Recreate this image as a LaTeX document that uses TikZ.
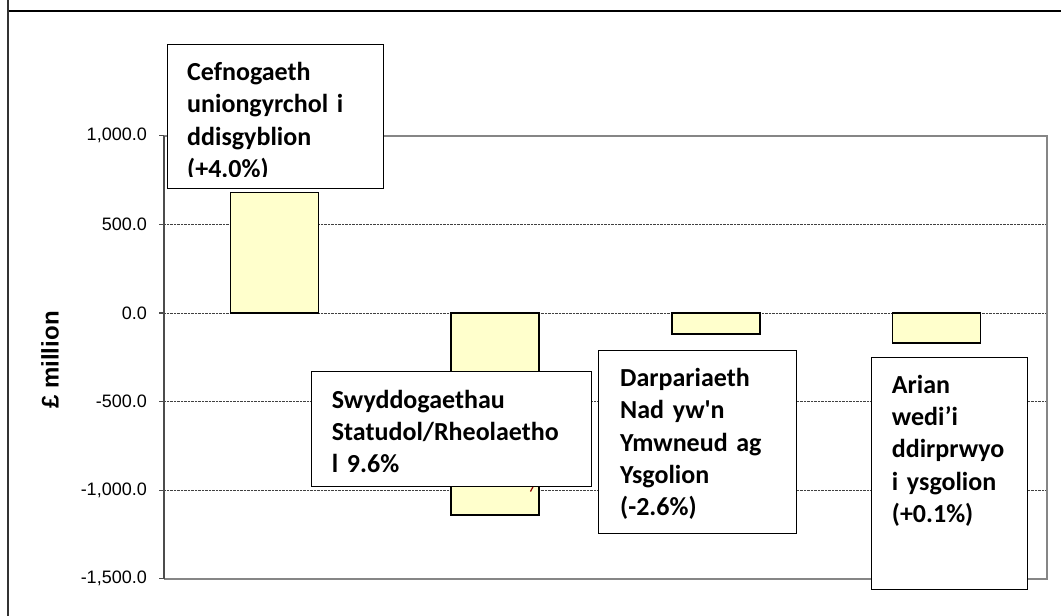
\documentclass[tikz,border=0pt]{standalone}
\usepackage{fontspec}
\setmainfont{Liberation Sans}
\newfontfamily\calloutfont{Carlito}
\usetikzlibrary{positioning}

\definecolor{barfill}{HTML}{FFFFCC}
\definecolor{framegray}{HTML}{868686}
\definecolor{leadred}{HTML}{8B0000}

\tikzset{
  barbox/.style={draw=black, line width=1.3pt, fill=barfill},
  gridline/.style={draw=black!75, line width=0.8pt, dash pattern=on 0.7pt off 0.7pt},
  callout/.style={draw=black, line width=1.3pt, fill=white, inner sep=0pt, anchor=north west},
  callouttext/.style={font=\calloutfont\bfseries\fontsize{26}{32.3}\selectfont,
    text width=260pt, align=left, inner sep=0pt, anchor=base west},
  ticklabel/.style={font=\fontsize{18}{20}\selectfont, anchor=east, inner sep=0pt},
  leader/.style={draw=leadred, line width=1.2pt},
}

\begin{document}
\begin{tikzpicture}[x=1pt,y=1pt]
\useasboundingbox (0,0) rectangle (1061,-616);
% outer chart frame
\draw [line width=2.5pt] (8,-11) -- (1061,-11);
\draw [black!80, line width=1.2pt] (8,0) -- (8,-616);
% axis title
\node [rotate=90, font=\bfseries\fontsize{24}{26}\selectfont] (ytitle) at (50,-360) {£ million};
% value axis, data units from here on
\begin{scope}[yshift=-313pt, y=0.1772pt]
\foreach \v in {500, 0, -500, -1000}
  \draw [gridline] (164,\v) -- (1047,\v);
\draw [framegray, line width=1.6pt] (164,1000) -- (1047,1000) -- (1047,-1500) -- (164,-1500);
\draw [black!70, line width=1.6pt] (164,1000) -- (164,-1500);
\foreach \v/\t in {1000/{1,000.0}, 500/500.0, 0/0.0, -500/-500.0, -1000/{-1,000.0}, -1500/{-1,500.0}} {
  \draw [black!70, line width=1.2pt] (159,\v) -- (164,\v);
  \node [ticklabel] (tick\v) at (147,\v) {\t};
}
% bars
\draw [barbox] (230.4,0) rectangle (318.4,680);
\draw [barbox] (451.1,0) rectangle (539.1,-1140);
\draw [barbox] (671.9,0) rectangle (759.9,-118);
\draw [barbox] (892.6,0) rectangle (980.6,-170);
\end{scope}
% leader line, mostly hidden by its label
\coordinate (lead2a) at (530.5,-491.5);
\coordinate (lead2b) at (536,-481);
\draw [leader] (lead2a) -- (lead2b);
% callout labels
\node [callout, minimum width=216pt, minimum height=144pt] (lab1) at (167,-44) {};
\begin{scope}
\clip (lab1.north west) rectangle (383,-176.5);
\node [callouttext] (txt1) at ([shift={(20,-36.5)}]lab1.north west)
  {Cefnogaeth\\uniongyrchol i\\ddisgyblion\\(+4.0\%)};
\end{scope}
\node [callout, minimum width=280pt, minimum height=114.7pt] (lab2) at (310.7,-371) {};
\node [callouttext] (txt2) at ([shift={(21,-37.3)}]lab2.north west)
  {Swyddogaethau\\Statudol/Rheolaetho\\l 9.6\%};
\node [callout, minimum width=197.7pt, minimum height=183pt] (lab3) at (598,-350) {};
\node [callouttext] (txt3) at ([shift={(22,-36.5)}]lab3.north west)
  {Darpariaeth\\Nad yw\textquotesingle n\\Ymwneud ag\\Ysgolion\\(-2.6\%)};
\node [callout, minimum width=156pt, minimum height=232.3pt] (lab4) at (871,-356.7) {};
\node [callouttext] (txt4) at ([shift={(20.7,-36.5)}]lab4.north west)
  {Arian\\wedi’i\\ddirprwyo\\i ysgolion\\(+0.1\%)};
\end{tikzpicture}
\end{document}
